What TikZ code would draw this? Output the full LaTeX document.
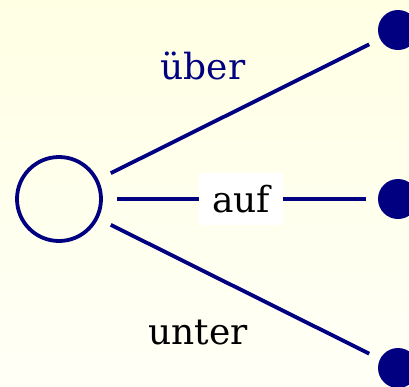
\documentclass[tikz,border=0pt]{standalone}
\usepackage{fontspec}
\setmainfont{DejaVu Serif}
\definecolor{navy}{RGB}{0,0,128}
\definecolor{bgtop}{RGB}{255,255,228}
\definecolor{bgbot}{RGB}{255,255,246}
\begin{document}
\begin{tikzpicture}[x=1pt,y=-1pt,
  ring/.style={circle,draw=navy,line width=3.8pt,inner sep=0pt,minimum size=84pt},
  dot/.style={circle,fill=navy,inner sep=0pt,minimum size=40pt},
  link/.style={draw=navy,line width=3.8pt,shorten <=14pt,shorten >=12pt},
  lab/.style={font=\fontsize{36}{40}\selectfont,inner sep=0pt}]
\useasboundingbox (0,0) rectangle (409,386);
\shade[top color=bgtop,bottom color=bgbot] (0,0) rectangle (409,386);
\node[ring] (c) at (59,199) {};
\node[dot] (d1) at (398,30) {};
\node[dot] (d2) at (398,199) {};
\node[dot] (d3) at (398,368) {};
\draw[link] (c) -- (d1);
\draw[link] (c) -- (d2);
\draw[link] (c) -- (d3);
\node[lab,fill=white,minimum width=84pt,minimum height=52pt] (auf) at (241,199) {auf};
\node[lab,text=navy,anchor=base] (ueber) at (203,79) {über};
\node[lab,anchor=base] (unter) at (198,344) {unter};
\end{tikzpicture}
\end{document}
